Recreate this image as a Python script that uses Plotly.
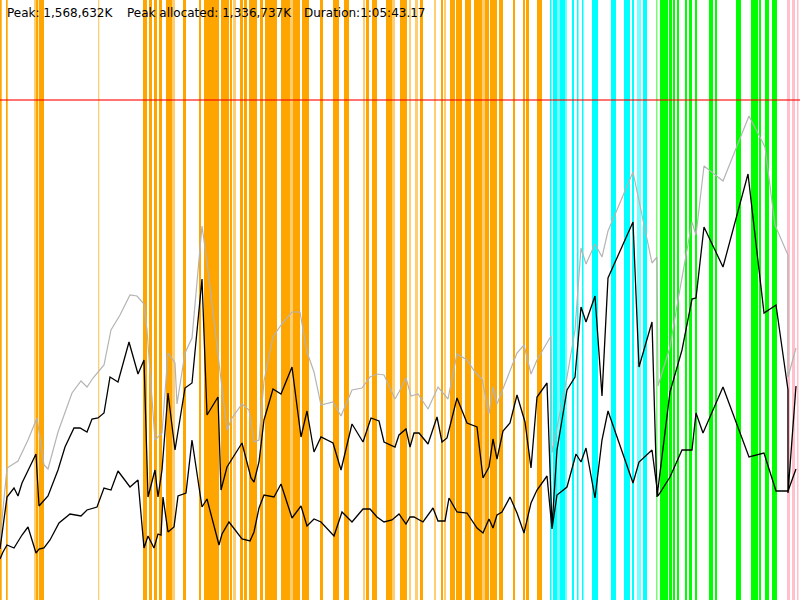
import plotly.graph_objects as go

# Header texts
peak_text = "Peak: 1,568,632K"
alloc_text = "Peak allocated: 1,336,737K"
duration_text = "Duration:1:05:43.17"

# Timeline runs 0..800 (one unit per pixel of the strip), memory axis is top-down 0..600
limit_level = 100

# Activity intervals: start, end, kind
bar_start = [0, 6, 34, 36, 39, 98, 143, 149, 154, 159, 166, 168, 172, 183, 199,
             204, 221, 230, 233, 240, 244, 249, 260, 265, 281, 290, 293, 302, 320,
             333, 344, 363, 366, 372, 386, 392,
             400, 409, 415, 420, 434, 441, 444, 450, 456, 465, 474, 482, 485, 490,
             499, 513, 523, 526, 537,
             550, 553, 557, 560, 565, 572, 577, 582, 592, 611, 624, 632, 637, 643,
             656, 660, 669, 673, 677, 685, 689, 695, 709, 715, 736, 751, 759, 765, 772,
             787, 792, 797]
bar_end = [1.7, 7.7, 36, 38.3, 44, 99.3, 147, 152, 157, 162, 168, 172, 175, 186, 201,
           219, 229, 232, 236, 243, 247, 257, 263, 277, 290, 293, 300, 309, 323,
           339, 349, 365, 369, 377, 392, 395,
           407, 411, 418, 423, 436, 443, 446, 455, 462, 471, 482, 485, 489, 497,
           503, 515, 525, 529, 542,
           551.5, 557, 560, 565, 567, 574, 578.5, 583.5, 598, 616, 630, 634, 641, 647,
           657.5, 668, 672, 675, 679, 687, 692, 697, 713, 717, 741, 758, 761, 769, 777,
           790, 795, 798.5]
bar_kind = ["o", "o", "oL", "o", "o", "oL", "o", "o", "o", "o", "o", "o", "oL", "o", "o",
            "o", "o", "o", "oL", "o", "o", "o", "o", "o", "o", "oL", "o", "o", "o",
            "o", "o", "oL", "o", "o", "o", "oL",
            "o", "oL", "oL", "o", "oL", "o", "oL", "o", "o", "o", "o", "oL", "o", "o",
            "o", "o", "o", "o", "o",
            "c", "c", "cL", "c", "cL", "c", "c", "c", "c", "c", "c", "c", "cL", "c",
            "gL", "g", "g", "g", "g", "g", "g", "g", "g", "g", "g", "g", "g", "g", "g",
            "p", "p", "p"]

# Memory series
gray_x = [0, 7, 18, 28, 37, 44, 48, 58, 72, 81, 87, 93, 104, 111, 120, 130, 137, 144,
          147, 155, 162, 168, 175, 177, 185, 192, 202, 207, 227, 232, 242, 249, 254,
          259, 264, 273, 281, 292, 300, 307, 314, 321, 333, 341, 352, 362, 370, 377,
          384, 395, 399, 406, 411, 418, 428, 438, 448, 457, 467, 475, 482, 489, 493,
          497, 517, 524, 531, 537, 551, 552, 567, 575, 581, 586, 595, 602, 608, 633,
          652, 657, 658, 670, 678, 692, 696, 704, 723, 749, 765, 775, 788, 788, 796]
gray_y = [540, 468, 461, 440, 418, 465, 469, 432, 393, 381, 387, 378, 365, 330, 315,
          295, 296, 304, 330, 440, 433, 353, 363, 404, 353, 338, 226, 262, 430, 418,
          404, 410, 442, 440, 381, 337, 325, 312, 312, 352, 372, 405, 402, 416, 390,
          388, 377, 374, 375, 399, 392, 378, 396, 394, 409, 387, 399, 354, 360, 372,
          379, 414, 387, 404, 353, 345, 374, 360, 336, 453, 377, 330, 248, 264, 244,
          257, 231, 172, 263, 257, 386, 347, 300, 222, 235, 166, 181, 116, 147, 225,
          255, 377, 348]

upper_x = [0, 7, 14, 18, 22, 36, 39, 48, 58, 65, 74, 80, 87, 92, 98, 104, 110, 118,
           129, 138, 144, 148, 155, 158, 162, 168, 175, 185, 192, 202, 207, 218, 221,
           227, 242, 251, 254, 259, 264, 273, 281, 292, 301, 307, 314, 321, 333, 341,
           352, 363, 371, 379, 384, 395, 399, 406, 410, 414, 419, 428, 437, 442, 447,
           457, 467, 477, 483, 489, 493, 497, 503, 510, 517, 525, 531, 537, 547, 552,
           557, 567, 575, 581, 586, 595, 602, 608, 633, 639, 652, 657, 670, 682, 692,
           696, 704, 723, 748, 764, 776, 788, 788, 796]
upper_y = [549, 497, 488, 496, 483, 454, 506, 496, 470, 447, 428, 428, 432, 419, 418,
           413, 377, 382, 342, 374, 360, 497, 470, 497, 470, 393, 450, 388, 383, 279,
           415, 397, 490, 467, 443, 478, 482, 462, 420, 389, 394, 367, 437, 411, 452,
           437, 443, 470, 424, 442, 418, 421, 442, 447, 435, 429, 447, 433, 433, 444,
           417, 442, 438, 398, 423, 427, 478, 467, 439, 459, 431, 423, 395, 422, 468,
           397, 383, 527, 450, 390, 377, 307, 322, 296, 396, 278, 222, 367, 322, 497,
           392, 350, 299, 298, 227, 267, 174, 313, 305, 390, 493, 386]

lower_x = [0, 3, 7, 14, 22, 28, 36, 39, 44, 50, 59, 70, 81, 87, 97, 104, 111, 118, 130,
           138, 144, 148, 154, 158, 161, 163, 168, 174, 178, 186, 192, 202, 207, 219,
           222, 229, 242, 250, 254, 259, 264, 274, 281, 292, 301, 307, 314, 321, 334,
           342, 352, 363, 370, 377, 384, 392, 399, 406, 410, 414, 423, 433, 438, 445,
           449, 457, 467, 477, 483, 489, 493, 497, 502, 510, 517, 524, 531, 537, 547,
           552, 557, 567, 576, 581, 586, 595, 602, 608, 633, 639, 652, 658, 670, 682,
           692, 696, 703, 723, 749, 764, 776, 788, 796]
lower_y = [559, 552, 545, 548, 535, 527, 553, 549, 548, 540, 523, 514, 516, 510, 507,
           488, 490, 471, 487, 480, 548, 536, 548, 534, 535, 497, 532, 527, 496, 493,
           440, 507, 499, 545, 534, 522, 539, 541, 532, 508, 495, 497, 484, 518, 506,
           526, 519, 522, 536, 512, 522, 509, 509, 517, 522, 520, 514, 524, 517, 517,
           522, 508, 521, 521, 498, 512, 513, 528, 533, 519, 528, 515, 512, 497, 513,
           533, 503, 490, 476, 529, 495, 487, 454, 462, 448, 498, 440, 411, 483, 462,
           450, 496, 477, 450, 450, 413, 433, 387, 457, 453, 491, 491, 469]

kind_color = {
    "o": "#FFA500", "oL": "rgba(255,165,0,0.55)",
    "c": "#00FFFF", "cL": "rgba(0,255,255,0.55)",
    "g": "#00FF00", "gL": "rgba(0,255,0,0.55)",
    "p": "#FFC0CB",
}

fig = go.Figure()

shapes = []
for s, e, k in zip(bar_start, bar_end, bar_kind):
    shapes.append(dict(type="rect", xref="x", yref="paper", x0=s, x1=e, y0=0, y1=1,
                       fillcolor=kind_color[k], line=dict(width=0), layer="below"))
shapes.append(dict(type="line", xref="paper", yref="y", x0=0, x1=1,
                   y0=limit_level, y1=limit_level,
                   line=dict(color="rgba(255,0,0,0.55)", width=2), layer="above"))

fig.add_trace(go.Scatter(x=gray_x, y=gray_y, mode="lines",
                         line=dict(color="#B4B4B4", width=1.2)))
fig.add_trace(go.Scatter(x=upper_x, y=upper_y, mode="lines",
                         line=dict(color="black", width=1.3)))
fig.add_trace(go.Scatter(x=lower_x, y=lower_y, mode="lines",
                         line=dict(color="black", width=1.3)))

fonts = "Lucida Grande, DejaVu Sans, Arial"
annotations = []
for txt, px in [(peak_text, 5), (alloc_text, 125), (duration_text, 302)]:
    annotations.append(dict(text=txt, x=px, y=13, xref="x", yref="y",
                            xanchor="left", yanchor="middle", showarrow=False,
                            font=dict(family=fonts, size=12, color="black")))

fig.update_layout(
    width=800, height=600,
    margin=dict(l=0, r=0, t=0, b=0),
    paper_bgcolor="white", plot_bgcolor="white",
    showlegend=False,
    shapes=shapes,
    annotations=annotations,
    xaxis=dict(range=[0, 800], visible=False, fixedrange=True),
    yaxis=dict(range=[600, 0], visible=False, fixedrange=True),
)

fig.write_html("out.html", config={"displayModeBar": False},
               post_script="document.body.style.margin='0';")
